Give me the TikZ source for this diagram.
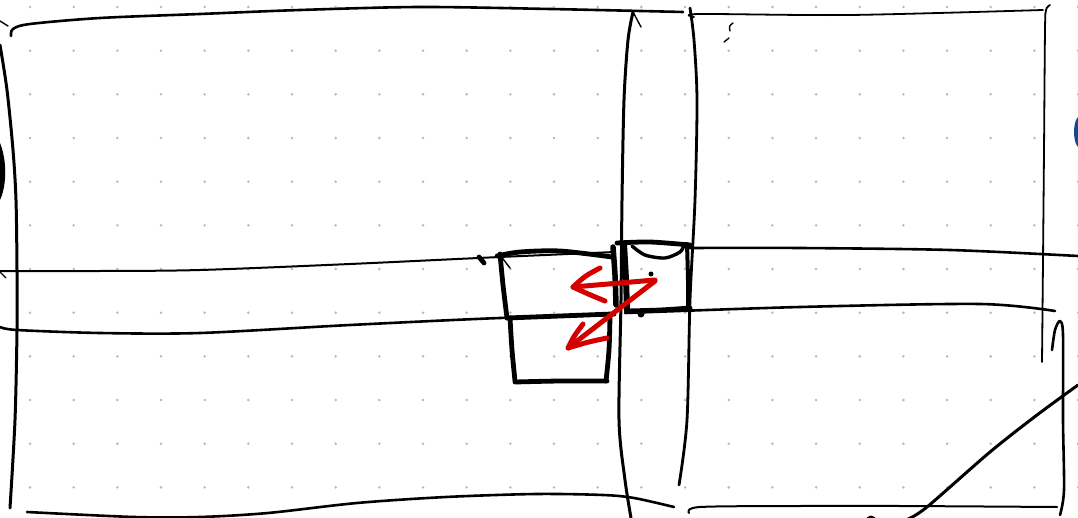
\documentclass[tikz,border=0pt]{standalone}
\definecolor{dotgray}{RGB}{185,185,185}
\definecolor{penred}{RGB}{212,0,0}
\definecolor{penblue}{RGB}{22,72,150}
\tikzset{
  pen/.style={line width=2.6pt, line cap=round, line join=round, black},
  thinpen/.style={line width=1.4pt, line cap=round, line join=round, black},
  heavypen/.style={line width=4.8pt, line cap=round, line join=round, black},
  redpen/.style={line width=5pt, line cap=round, line join=round, penred},
}
\begin{document}
\begin{tikzpicture}[x=1pt,y=-1pt]
\useasboundingbox (0,0) rectangle (1078,518);
\fill[white] (0,0) rectangle (1078,518);
% dot grid
\foreach \i in {0,...,24}{
  \foreach \j in {0,...,11}{
    \fill[dotgray] ({30+43.67*\i},{7+43.67*\j}) circle (1.4pt);
  }
}
% top-left line
\draw[pen] plot[smooth] coordinates {(11,36) (13,29) (30,24) (100,18) (200,14) (300,10) (420,7) (550,9) (683,12)};
\draw[thinpen] (0,21) -- (8,26);
% left border
\draw[pen, line width=3pt] plot[smooth] coordinates {(0,45) (7,90) (13,150) (16,200) (17,270) (17,330) (15,420) (10,508)};
\fill (0,143) .. controls (7,160) and (7,185) .. (0,200) -- cycle;
% band lines
\draw[thinpen] (0,272) -- (6,278);
\draw[pen, line width=2pt] plot[smooth] coordinates {(0,271) (100,271) (200,270) (350,264) (500,257) (615,252)};
\draw[pen] plot[smooth] coordinates {(688,248) (800,248) (950,250) (1078,256)};
\draw[pen] plot[smooth] coordinates {(0,327) (17,330) (100,333) (200,333) (350,325) (500,318) (615,315)};
\draw[pen] plot[smooth] coordinates {(625,313) (800,307) (980,304) (1055,311)};
% middle verticals
\draw[pen, line width=3pt] plot[smooth] coordinates {(633,12) (628,40) (624,100) (622,200) (621,300) (619,420) (625,480) (631,518)};
\draw[thinpen] (633,12) -- (641,27);
\draw[pen, line width=2.8pt] plot[smooth] coordinates {(690,8) (694,40) (697,100) (695,200) (690,300) (687,420) (679,485)};
% top-right line and right border
\draw[thinpen, line width=1.8pt] plot[smooth] coordinates {(694,17) (700,14) (850,15) (1043,10)};
\draw[thinpen, line width=1.8pt] plot[smooth] coordinates {(1050,5) (1046,10) (1045,30) (1044,150) (1043,260) (1042,362)};
\draw[thinpen] (733,23) .. controls (729,26) .. (730,31);
\draw[thinpen] (729,38) -- (724,42);
% bottom lines
\draw[pen] plot[smooth] coordinates {(27,512) (134,517) (200,517) (268,513) (357,503) (446,497) (536,494) (603,495) (634,498) (674,507)};
\draw[pen, line width=2pt] plot[smooth] coordinates {(689,513) (700,507) (800,506) (900,506) (1057,507)};
% far-right lower vertical
\draw[pen] plot[smooth] coordinates {(1052,350) (1055,330) (1060,321) (1063,335) (1063,420) (1064,490) (1060,515)};
% diagonal
\draw[pen, line width=3pt] plot[smooth] coordinates {(908,519) (927,507) (990,452) (1037,415) (1078,385)};
\fill (871,521) circle (5.5pt);
\fill[penblue] (1081,132) ellipse (7pt and 17pt);
% upper-left box
\draw[heavypen] plot[smooth] coordinates {(497,256) (520,252) (560,251) (612,257)};
\draw[heavypen] plot[smooth] coordinates {(500,254) (503,285) (507,318)};
\draw[thinpen] (500,255) -- (510,268);
\draw[heavypen, line width=5.5pt] plot[smooth] coordinates {(613,247) (615,275) (616,305)};
\draw[heavypen] (479,257) -- (484,263);
% lower-left box
\draw[heavypen] plot[smooth] coordinates {(507,318) (560,316) (612,314)};
\draw[heavypen] plot[smooth] coordinates {(510,318) (512,350) (515,381)};
\draw[heavypen] plot[smooth] coordinates {(515,382) (560,381) (607,381)};
\draw[heavypen] plot[smooth] coordinates {(606,381) (609,350) (610,316)};
% right box
\draw[heavypen, line width=6pt] plot[smooth] coordinates {(624,244) (626,280) (627,311)};
\draw[heavypen] plot[smooth] coordinates {(617,243) (650,242) (690,245)};
\draw[heavypen, line width=3.4pt] plot[smooth] coordinates {(632,246) (645,255) (665,258) (680,252) (684,245)};
\draw[heavypen, line width=4pt] plot[smooth] coordinates {(687,244) (688,280) (688,310)};
\draw[heavypen] plot[smooth] coordinates {(627,311) (660,310) (690,308)};
\fill (641,314) circle (3.5pt);
\fill (651,274) circle (2.5pt);
% red arrows
\draw[redpen] (655,280) -- (573,287);
\draw[redpen] (600,268) .. controls (585,276) .. (573,287) .. controls (588,294) .. (605,301);
\draw[redpen] (655,281) -- (568,348);
\draw[redpen] (583,324) .. controls (574,336) .. (568,348) .. controls (588,342) .. (607,338);
\end{tikzpicture}
\end{document}
